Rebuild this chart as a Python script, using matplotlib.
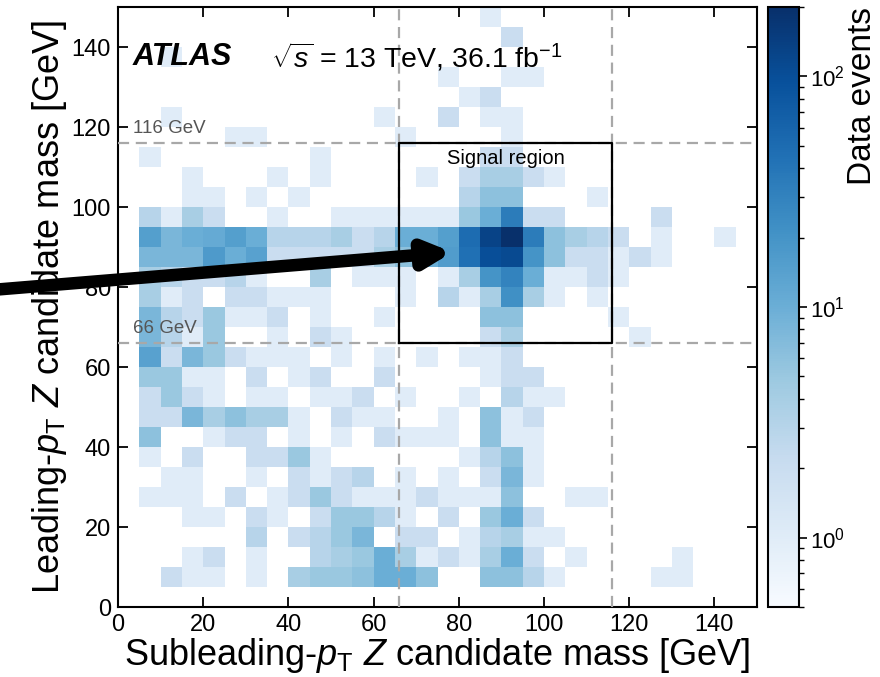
import numpy as np
import matplotlib
matplotlib.use("Agg")
import matplotlib.pyplot as plt
from matplotlib.colors import LogNorm

plt.rcParams["font.family"] = ["Liberation Sans", "DejaVu Sans"]
plt.rcParams["mathtext.fontset"] = "custom"
plt.rcParams["mathtext.rm"] = "Liberation Sans"
plt.rcParams["mathtext.it"] = "Liberation Sans:italic"
plt.rcParams["mathtext.bf"] = "Liberation Sans:bold"

# 5 GeV bins, 0-150 GeV on both axes
mass_edges = np.arange(0, 155, 5)

# data events per bin, one row per leading-pT Z mass bin
# written from the top row (145-150 GeV) down to the bottom row (0-5 GeV)
# columns: subleading-pT Z mass bins 0-5, 5-10, ..., 145-150 GeV
events_rows = [
    [0, 0, 0, 0, 0, 0, 0, 0, 0, 0, 0, 0, 0, 0, 0, 0, 0, 1, 0, 0, 0, 0, 0, 0, 0, 0, 0, 0, 0, 0],
    [0, 0, 0, 0, 0, 0, 0, 0, 0, 0, 0, 0, 0, 0, 0, 0, 0, 0, 2, 0, 0, 0, 0, 0, 0, 0, 0, 0, 0, 0],
    [0, 0, 1, 0, 0, 0, 0, 0, 0, 0, 0, 0, 0, 0, 0, 0, 0, 0, 0, 0, 0, 0, 0, 0, 0, 0, 0, 0, 0, 0],
    [0, 0, 0, 0, 0, 0, 0, 0, 0, 0, 0, 0, 0, 0, 0, 1, 0, 0, 1, 1, 0, 0, 0, 0, 0, 0, 0, 0, 0, 0],
    [0, 0, 0, 0, 0, 0, 0, 0, 0, 0, 0, 0, 0, 0, 0, 0, 1, 2, 0, 0, 0, 0, 0, 0, 0, 0, 0, 0, 0, 0],
    [0, 0, 1, 0, 0, 0, 0, 0, 0, 0, 0, 0, 1, 0, 0, 2, 0, 1, 1, 0, 0, 0, 0, 0, 0, 0, 0, 0, 0, 0],
    [0, 0, 0, 0, 0, 1, 1, 0, 0, 0, 0, 0, 0, 1, 0, 0, 0, 0, 1, 0, 0, 0, 0, 0, 0, 0, 0, 0, 0, 0],
    [0, 1, 0, 0, 0, 0, 0, 0, 0, 1, 0, 0, 0, 0, 0, 0, 0, 2, 2, 0, 0, 0, 0, 0, 0, 0, 0, 0, 0, 0],
    [0, 0, 0, 1, 0, 0, 0, 1, 0, 1, 0, 0, 0, 0, 1, 0, 2, 4, 4, 2, 1, 0, 0, 0, 0, 0, 0, 0, 0, 0],
    [0, 0, 0, 1, 1, 0, 1, 0, 1, 0, 0, 0, 0, 0, 0, 0, 3, 6, 6, 0, 0, 0, 1, 0, 0, 0, 0, 0, 0, 0],
    [0, 3, 1, 4, 2, 0, 0, 1, 0, 0, 1, 1, 1, 1, 1, 1, 5, 10, 35, 2, 2, 0, 0, 0, 0, 2, 0, 0, 0, 0],
    [0, 15, 8, 10, 11, 15, 10, 3, 3, 3, 4, 2, 3, 10, 10, 15, 50, 130, 200, 35, 6, 4, 3, 2, 0, 1, 0, 0, 1, 0],
    [0, 8, 8, 8, 17, 10, 14, 2, 2, 2, 2, 2, 4, 6, 10, 16, 45, 100, 110, 20, 6, 2, 2, 1, 2, 1, 0, 0, 0, 0],
    [0, 4, 3, 2, 2, 3, 1, 0, 0, 4, 0, 1, 1, 1, 0, 1, 4, 20, 30, 10, 1, 1, 2, 1, 0, 0, 0, 0, 0, 0],
    [0, 4, 1, 2, 0, 2, 2, 1, 1, 1, 0, 0, 0, 1, 0, 3, 1, 4, 22, 4, 1, 0, 1, 0, 0, 0, 0, 0, 0, 0],
    [0, 8, 3, 2, 5, 1, 1, 2, 0, 1, 0, 0, 1, 0, 0, 0, 0, 6, 6, 0, 0, 0, 0, 1, 0, 0, 0, 0, 0, 0],
    [0, 8, 3, 1, 5, 0, 0, 1, 0, 2, 1, 0, 0, 0, 0, 0, 0, 2, 4, 0, 0, 0, 0, 0, 1, 0, 0, 0, 0, 0],
    [0, 14, 2, 8, 5, 2, 1, 1, 1, 0, 1, 0, 1, 0, 1, 0, 1, 1, 2, 0, 0, 0, 0, 0, 0, 0, 0, 0, 0, 0],
    [0, 5, 5, 1, 1, 0, 2, 0, 1, 2, 0, 0, 2, 0, 0, 0, 0, 1, 2, 2, 0, 0, 0, 0, 0, 0, 0, 0, 0, 0],
    [0, 2, 5, 2, 1, 0, 1, 1, 0, 1, 1, 2, 0, 1, 0, 0, 1, 0, 3, 1, 1, 0, 0, 0, 0, 0, 0, 0, 0, 0],
    [0, 2, 2, 8, 4, 6, 4, 4, 1, 0, 2, 1, 1, 0, 0, 1, 0, 6, 1, 2, 0, 0, 0, 0, 0, 0, 0, 0, 0, 0],
    [0, 6, 0, 0, 1, 2, 2, 0, 1, 0, 1, 0, 2, 1, 1, 1, 0, 6, 1, 1, 0, 0, 0, 0, 0, 0, 0, 0, 0, 0],
    [0, 1, 0, 2, 0, 0, 2, 2, 5, 1, 0, 0, 0, 0, 0, 0, 1, 3, 6, 1, 0, 0, 0, 0, 0, 0, 0, 0, 0, 0],
    [0, 0, 1, 1, 0, 0, 1, 0, 2, 1, 2, 3, 0, 1, 0, 1, 0, 2, 8, 1, 0, 0, 0, 0, 0, 0, 0, 0, 0, 0],
    [0, 1, 1, 1, 0, 2, 0, 1, 2, 5, 2, 1, 1, 1, 2, 1, 1, 1, 6, 0, 0, 1, 1, 0, 0, 0, 0, 0, 0, 0],
    [0, 0, 0, 1, 1, 0, 2, 1, 0, 2, 5, 5, 3, 1, 0, 2, 0, 5, 10, 2, 0, 0, 0, 0, 0, 0, 0, 0, 0, 0],
    [0, 0, 0, 0, 0, 0, 3, 0, 2, 3, 5, 8, 0, 2, 2, 0, 1, 3, 4, 1, 1, 0, 0, 0, 0, 0, 0, 0, 0, 0],
    [0, 0, 0, 1, 2, 0, 1, 0, 0, 3, 4, 5, 10, 4, 1, 2, 1, 4, 10, 2, 0, 1, 0, 0, 0, 0, 1, 0, 0, 0],
    [0, 0, 2, 1, 1, 0, 1, 0, 4, 5, 5, 6, 10, 10, 6, 0, 0, 6, 6, 3, 1, 0, 0, 0, 0, 1, 1, 0, 0, 0],
    [0, 0, 0, 0, 0, 0, 0, 0, 0, 0, 0, 0, 0, 0, 0, 0, 0, 0, 0, 0, 0, 0, 0, 0, 0, 0, 0, 0, 0, 0],
]

# signal region window (GeV)
sr_low, sr_high = 66, 116

counts = np.array(events_rows[::-1], dtype=float)   # bottom row first for pcolormesh
counts = np.ma.masked_equal(counts, 0)

fig = plt.figure(figsize=(8.8, 6.77), dpi=100)
ax = fig.add_axes([118 / 880, 70 / 677, 639 / 880, 600 / 677])
cax = fig.add_axes([768 / 880, 70 / 677, 31 / 880, 600 / 677])

mesh = ax.pcolormesh(mass_edges, mass_edges, counts, cmap="Blues",
                     norm=LogNorm(vmin=0.5, vmax=200))

# mass window lines
dash_kw = dict(color="#a8a8a8", lw=1.6, ls=(0, (5, 3)), zorder=3)
ax.axhline(sr_high, **dash_kw)
ax.axhline(sr_low, **dash_kw)
ax.axvline(sr_low, **dash_kw)
ax.axvline(sr_high, **dash_kw)
ax.plot([sr_low, sr_high, sr_high, sr_low, sr_low],
        [sr_low, sr_low, sr_high, sr_high, sr_low], color="black", lw=1.6, zorder=4)

ax.text(3.5, sr_high + 1.5, f"{sr_high} GeV", fontsize=13.5, color="#555555", va="bottom")
ax.text(3.5, sr_low + 1.5, f"{sr_low} GeV", fontsize=13.5, color="#555555", va="bottom")
ax.text((sr_low + sr_high) / 2, 112, "Signal region", fontsize=14.5, ha="center", va="center")

ax.text(3.5, 137.5, "ATLAS", fontsize=22, fontweight="bold", style="italic", va="center")
ax.text(36, 137.5, r"$\sqrt{s}$ = 13 TeV, 36.1 fb$^{-1}$", fontsize=20.5, va="center")

ax.set_xlim(0, 150)
ax.set_ylim(0, 150)
ax.set_xticks(np.arange(0, 141, 20))
ax.set_yticks(np.arange(0, 141, 20))
ax.tick_params(direction="in", length=7, width=1.3, labelsize=17, top=True, right=True, pad=5)
for sp in ax.spines.values():
    sp.set_linewidth(1.5)

ax.set_xlabel(r"Subleading-$p_{\mathrm{T}}$ $Z$ candidate mass [GeV]", fontsize=26, labelpad=0)
ax.set_ylabel(r"Leading-$p_{\mathrm{T}}$ $Z$ candidate mass [GeV]", fontsize=26, labelpad=2)

cb = fig.colorbar(mesh, cax=cax)
cb.outline.set_linewidth(1.5)
cb.ax.tick_params(labelsize=16, width=1.2, length=6, pad=2)
cb.ax.tick_params(which="minor", width=1.0, length=3.5)
cb.set_label("Data events", fontsize=24, labelpad=1, loc="top")

# arrow pointing into the signal region
ax.annotate("", xy=(78.5, 88.7), xytext=(-28, 79.4), xycoords="data",
            annotation_clip=False,
            arrowprops=dict(arrowstyle="-|>,head_length=1.5,head_width=0.75",
                            lw=9, color="black", shrinkA=0, shrinkB=0))

fig.savefig("out.png", dpi=100)
